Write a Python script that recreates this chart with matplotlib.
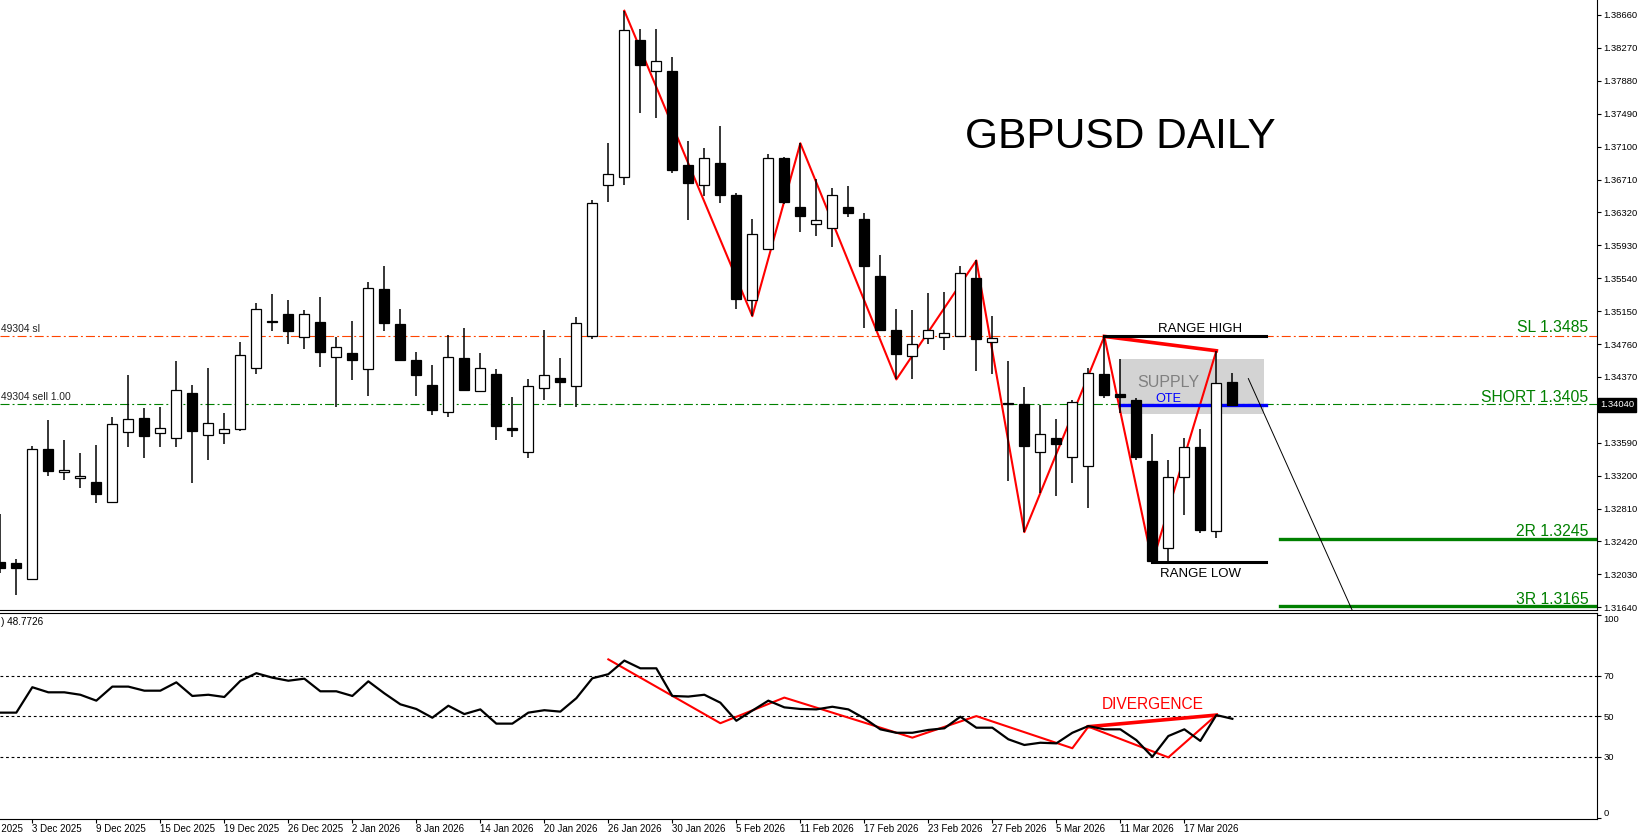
'''
GBPUSD daily candles with a zigzag, trade levels and an RSI panel below.
'''
import numpy as np
import matplotlib.pyplot as plt
import matplotlib.transforms as mtransforms
from matplotlib.patches import Rectangle

plt.rcParams['font.family'] = ['Liberation Sans', 'DejaVu Sans']
plt.rcParams['lines.scale_dashes'] = False

# daily bars, first value = 1 Dec 2025 (bar -2), bar 0 = 3 Dec 2025, last = 20 Mar 2026
first_bar = -2
opens = [1.3217, 1.3216, 1.3198, 1.3351, 1.3324, 1.3317, 1.3312, 1.3289, 1.3372, 1.3388,
         1.3370, 1.3365, 1.3418, 1.3368, 1.3371, 1.3375, 1.3447, 1.35035, 1.3511, 1.3484,
         1.3502, 1.3461, 1.3465, 1.3446, 1.3541, 1.3500, 1.3457, 1.3427, 1.3395, 1.3459,
         1.3420, 1.3441, 1.3376, 1.3348, 1.3424, 1.3436, 1.3426, 1.3486, 1.3664, 1.3674,
         1.3836, 1.3800, 1.3800, 1.3688, 1.3664, 1.3690, 1.3653, 1.3528, 1.3589, 1.3696,
         1.3638, 1.3618, 1.3613, 1.3638, 1.3624, 1.3557, 1.3493, 1.3462, 1.3483, 1.3484,
         1.3485, 1.3554, 1.3478, 1.34065, 1.3405, 1.3348, 1.3364, 1.3342, 1.3331, 1.3440,
         1.3417, 1.3410, 1.3337, 1.3234, 1.3318, 1.3354, 1.3254, 1.3431]
highs = [1.3275, 1.3221, 1.3355, 1.3386, 1.3362, 1.3347, 1.3356, 1.3390, 1.3439, 1.3400,
         1.3401, 1.3456, 1.3427, 1.3447, 1.3394, 1.3478, 1.3525, 1.3535, 1.3528, 1.3516,
         1.3532, 1.3484, 1.3503, 1.3550, 1.3569, 1.3518, 1.3467, 1.3451, 1.3487, 1.3495,
         1.3465, 1.3446, 1.3413, 1.3435, 1.3493, 1.3459, 1.3508, 1.3647, 1.3714, 1.3871,
         1.3849, 1.3849, 1.3816, 1.3717, 1.3708, 1.3734, 1.3655, 1.3624, 1.3701, 1.3698,
         1.3714, 1.3672, 1.3661, 1.3663, 1.3631, 1.3582, 1.3518, 1.3516, 1.3537, 1.3538,
         1.3568, 1.3575, 1.3509, 1.3456, 1.3425, 1.3404, 1.3387, 1.3410, 1.3448, 1.3485,
         1.3458, 1.3412, 1.3369, 1.3339, 1.3364, 1.3375, 1.3468, 1.3442]
lows = [1.3204, 1.3179, 1.3197, 1.3320, 1.3315, 1.3305, 1.3287, 1.3288, 1.3354, 1.3341,
        1.3354, 1.3354, 1.3311, 1.3339, 1.3357, 1.3373, 1.3441, 1.3492, 1.3476, 1.3470,
        1.3449, 1.3401, 1.3433, 1.3414, 1.3492, 1.3456, 1.3414, 1.3392, 1.3390, 1.3421,
        1.3419, 1.3362, 1.3366, 1.3341, 1.3410, 1.3401, 1.3401, 1.3482, 1.3644, 1.3664,
        1.3750, 1.3744, 1.3679, 1.3623, 1.3651, 1.3643, 1.3518, 1.3509, 1.3588, 1.3642,
        1.3609, 1.3604, 1.3591, 1.3626, 1.3495, 1.3491, 1.3434, 1.3435, 1.3476, 1.3469,
        1.3484, 1.3444, 1.3440, 1.3314, 1.3253, 1.3299, 1.3296, 1.3311, 1.3282, 1.3412,
        1.3394, 1.3339, 1.3217, 1.3219, 1.3273, 1.3252, 1.3246, 1.3403]
closes = [1.3211, 1.3211, 1.3352, 1.3326, 1.3327, 1.3320, 1.3298, 1.3381, 1.3387, 1.3367,
          1.3376, 1.3422, 1.3373, 1.3382, 1.3375, 1.3463, 1.3517, 1.35025, 1.3492, 1.3512,
          1.3467, 1.3473, 1.3457, 1.3542, 1.3501, 1.3457, 1.3439, 1.3398, 1.3461, 1.3422,
          1.3447, 1.3379, 1.3374, 1.3426, 1.3439, 1.3431, 1.3501, 1.3643, 1.3678, 1.3848,
          1.3807, 1.3811, 1.3682, 1.3667, 1.3697, 1.3653, 1.3529, 1.3606, 1.3696, 1.3644,
          1.3628, 1.3623, 1.3653, 1.3631, 1.3568, 1.3493, 1.3464, 1.3476, 1.3493, 1.3489,
          1.3560, 1.3482, 1.3483, 1.3405, 1.3355, 1.3369, 1.3357, 1.3407, 1.3442, 1.3416,
          1.3413, 1.3342, 1.3219, 1.3318, 1.3354, 1.3256, 1.3430, 1.3404]
rsi = [51.8, 51.8, 64.3, 61.8, 61.8, 60.6, 57.7, 64.6, 64.6, 62.6,
       62.6, 66.7, 60.0, 60.6, 59.5, 67.4, 71.2, 69.0, 67.5, 68.5,
       62.3, 62.3, 60.0, 67.2, 61.3, 55.9, 53.6, 49.3, 55.2, 51.1,
       53.4, 46.4, 46.4, 51.8, 53.0, 52.3, 58.9, 68.7, 70.7, 77.4,
       73.6, 73.6, 60.0, 59.7, 60.6, 56.7, 47.8, 52.8, 57.7, 54.4,
       53.6, 53.4, 54.7, 53.4, 49.0, 43.6, 41.9, 41.9, 43.3, 44.1,
       49.8, 44.4, 44.4, 38.7, 35.9, 37.0, 36.7, 41.9, 45.2, 43.6,
       43.6, 38.3, 30.1, 40.3, 43.6, 37.9, 50.6, 48.7726]

# zigzag swing points (bar, price) and the one drawn on the RSI
zz_bars = [37, 45, 48, 54, 59, 62, 67, 70, 74]
zz_prices = [1.3871, 1.3509, 1.3714, 1.3434, 1.3575, 1.3253, 1.3485, 1.3217, 1.3468]
rsi_zz_bars = [36, 43, 47, 55, 59, 65, 66, 71, 74]
rsi_zz_vals = [78.0, 46.6, 59.2, 39.5, 50.1, 34.3, 44.9, 29.8, 50.6]

# levels
sl_level = 1.3485
short_level = 1.3405
r2_level = 1.3245
r3_level = 1.3165
range_low = 1.3218
supply_low, supply_high = 1.3393, 1.3458
last_price = 1.3404

price_ticks = [1.31640, 1.32030, 1.32420, 1.32810, 1.33200, 1.33590, 1.33980, 1.34370,
               1.34760, 1.35150, 1.35540, 1.35930, 1.36320, 1.36710, 1.37100, 1.37490,
               1.37880, 1.38270, 1.38660]
date_labels = ['27 Nov 2025', '3 Dec 2025', '9 Dec 2025', '15 Dec 2025', '19 Dec 2025',
               '26 Dec 2025', '2 Jan 2026', '8 Jan 2026', '14 Jan 2026', '20 Jan 2026',
               '26 Jan 2026', '30 Jan 2026', '5 Feb 2026', '11 Feb 2026', '17 Feb 2026',
               '23 Feb 2026', '27 Feb 2026', '5 Mar 2026', '11 Mar 2026', '17 Mar 2026']
first_label_bar = -4

W, H = 1639, 838
fig = plt.figure(figsize=(W / 100, H / 100), dpi=100)
ax = fig.add_axes([0, 1 - 610 / H, 1597 / W, 610 / H])
ax2 = fig.add_axes([0, 1 - 819 / H, 1597 / W, 206 / H])

x = np.arange(len(opens)) + first_bar
o = np.array(opens)
h = np.array(highs)
l = np.array(lows)
c = np.array(closes)
up = c >= o

# candles on top of everything else (chart on foreground)
ax.vlines(x, l, h, color='black', lw=1.1, zorder=5)
body = np.maximum(np.abs(c - o), 0.00008)
ax.bar(x, body, bottom=np.minimum(o, c), width=0.63,
       color=np.where(up, 'white', 'black'), edgecolor='black', linewidth=0.9, zorder=6)

# zigzag and the lower high
ax.plot(zz_bars, zz_prices, color='red', lw=1.5, zorder=3)
ax.plot([67, 74], [zz_prices[6], zz_prices[8]], color='red', lw=2.6, zorder=3)

# order lines
ax.axhline(sl_level, color='#ff4500', lw=0.8, dashes=(6.5, 2.2, 1.4, 2.2), zorder=2)
ax.axhline(short_level, color='#008000', lw=0.8, dashes=(6.5, 2.2, 1.4, 2.2), zorder=2)
ax.text(-1.95, sl_level + 0.00025, '49304 sl', fontsize=7.4, va='bottom', ha='left', color='#222222')
ax.text(-1.95, short_level + 0.00025, '49304 sell 1.00', fontsize=7.4, va='bottom', ha='left', color='#222222')

# supply box, OTE, range lines
ax.add_patch(Rectangle((68, supply_low), 9, supply_high - supply_low, fc='#d3d3d3', ec='none', zorder=1))
ax.plot([68, 77.1], [short_level - 0.0001] * 2, color='blue', lw=2.4, zorder=4)
ax.plot([67, 77.1], [sl_level] * 2, color='black', lw=2.2, zorder=4)
ax.plot([70, 77.1], [range_low] * 2, color='black', lw=2.2, zorder=4)
ax.text(73.0, 1.34906, 'RANGE HIGH', fontsize=9.5, ha='center', va='baseline')
ax.text(73.0, 1.31999, 'RANGE LOW', fontsize=9.5, ha='center', va='baseline')
ax.text(71.0, 1.34254, 'SUPPLY', fontsize=11.5, ha='center', va='baseline', color='#808080')
ax.text(71.0, 1.34076, 'OTE', fontsize=9.2, ha='center', va='baseline', color='blue')

# targets and the projected move
ax.plot([78, 99], [r2_level] * 2, color='#008000', lw=2.4, zorder=4)
ax.plot([78, 99], [r3_level] * 2, color='#008000', lw=2.4, zorder=4)
ax.plot([76.0, 82.5], [1.3435, 1.3160], color='black', lw=0.7, zorder=4)
for lev, base, txt in [(sl_level, 1.34899, 'SL 1.3485'), (short_level, 1.34076, 'SHORT 1.3405'),
                       (r2_level, 1.32484, '2R 1.3245'), (r3_level, 1.31678, '3R 1.3165')]:
    ax.text(97.25, base, txt, fontsize=11.3, ha='right', va='baseline', color='#008000', zorder=7)

fig.text(1120 / W, 1 - 148 / H, 'GBPUSD DAILY', fontsize=30.6, ha='center', va='baseline')

ax.set_xlim(-2.02, 97.79)
ax.set_ylim(1.316069, 1.388378)
ax.set_xticks([])
ax.yaxis.tick_right()
ax.set_yticks(price_ticks)
ax.set_yticklabels(['%.5f' % v for v in price_ticks])
ax.tick_params(axis='y', direction='out', length=3, width=0.8, labelsize=6.8, pad=1.5)
for s in ['left', 'top']:
    ax.spines[s].set_visible(False)
ax.spines['right'].set_linewidth(0.8)
ax.spines['bottom'].set_linewidth(0.8)

tr = mtransforms.blended_transform_factory(ax.transAxes, ax.transData)
ax.text(1 + 3 / 1597, last_price, '%.5f' % last_price, transform=tr, fontsize=6.8, color='white',
        ha='left', va='center', clip_on=False, zorder=10,
        bbox=dict(boxstyle='square,pad=0.25', fc='black', ec='black'))

# RSI panel
ax2.plot(x, rsi, color='black', lw=1.6, zorder=3)
for lvl in (30, 50, 70):
    ax2.axhline(lvl, color='black', lw=0.8, dashes=(2, 2), zorder=1)
ax2.plot(rsi_zz_bars, rsi_zz_vals, color='red', lw=1.5, zorder=2)
ax2.plot([66, 74], [44.9, 50.6], color='red', lw=2.6, zorder=2)
ax2.text(70.0, 53.6, 'DIVERGENCE', fontsize=11.2, color='red', ha='center', va='baseline')
ax2.text(0.0005, 0.956, ') %.4f' % rsi[-1], transform=ax2.transAxes, fontsize=7.2, va='center', ha='left')

ax2.set_xlim(-2.02, 97.79)
ax2.set_ylim(-0.5, 100.8)
ax2.yaxis.tick_right()
ax2.set_yticks([0, 30, 50, 70, 100])
ax2.set_yticklabels(['0', '30', '50', '70', '100'])
ax2.tick_params(axis='y', direction='out', length=3, width=0.8, labelsize=6.8, pad=1.5)
ylabs = ax2.get_yticklabels()
ylabs[0].set_va('bottom')
ylabs[-1].set_va('top')

tick_bars = [first_label_bar + 4 * k for k in range(len(date_labels))]
ax2.set_xticks([b for b in tick_bars if b >= -2])
ax2.tick_params(axis='x', direction='out', length=3, width=0.8, labelbottom=False)
trx = mtransforms.blended_transform_factory(ax2.transData, ax2.transAxes)
for b, lab in zip(tick_bars, date_labels):
    ax2.text(b - 0.05, -0.047, lab, transform=trx, fontsize=7.0, ha='left', va='center', clip_on=False)
ax2.spines['left'].set_visible(False)
for s in ['top', 'bottom', 'right']:
    ax2.spines[s].set_linewidth(0.8)

plt.savefig('out.png', dpi=100)
